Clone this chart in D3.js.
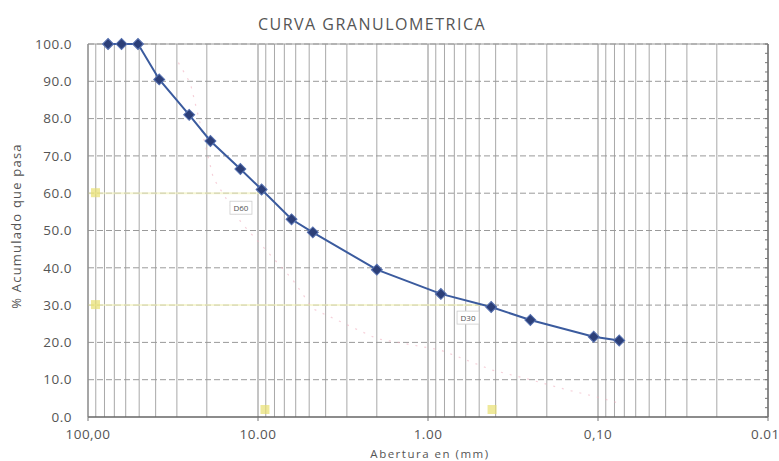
<!DOCTYPE html>
<html>
<head>
<meta charset="utf-8">
<script src="https://cdn.jsdelivr.net/npm/d3@7"></script>
<style>
  html, body { margin: 0; padding: 0; background: #fff; }
  svg { display: block; }
  text { font-family: "Open Sans", "DejaVu Sans", sans-serif; fill: #555; }
</style>
</head>
<body>
<div id="chart"></div>
<script>
// ---- data ----
const title = "CURVA GRANULOMETRICA";
const xTitle = "Abertura en (mm)";
const yTitle = "% Acumulado que pasa";
const sieveSizes = [76.2, 63.5, 50.8, 38.1, 25.4, 19.05, 12.7, 9.525, 6.35, 4.76, 2.00, 0.84, 0.425, 0.25, 0.106, 0.075];
const percentPassing = [100, 100, 100, 90.5, 81, 74, 66.5, 61, 53, 49.5, 39.5, 33, 29.5, 26, 21.5, 20.5];
// faint secondary (erased) curve
const faintSizes = [29.4, 25, 18.3, 12.5, 6.3, 4.75, 2.0, 0.85, 0.42, 0.25, 0.15, 0.106, 0.075];
const faintPassing = [95, 89.5, 64, 52, 37, 29, 21, 18, 12.6, 10, 7.2, 5.6, 3.7];
const xTickValues = [100, 10, 1, 0.1, 0.01];
const xTickLabels = ["100,00", "10.00", "1.00", "0,10", "0.01"];
const yTickValues = [0, 10, 20, 30, 40, 50, 60, 70, 80, 90, 100];
const dLabels = ["D60", "D30"];
const dPercents = [60, 30];
const dSizes = [9.1, 0.42];

// ---- layout ----
const W = 779, H = 461;
const svg = d3.select("#chart").append("svg").attr("width", W).attr("height", H);

const x = d3.scaleLog().domain([100, 0.01]).range([88, 768]);
const y = d3.scaleLinear().domain([0, 100]).range([417, 44]);

const g = svg.append("g");

// vertical log grid
const vGrid = [];
for (let e = -2; e < 2; e++) {
  for (let k = 1; k <= 9; k++) vGrid.push(k * Math.pow(10, e));
}
vGrid.push(100);
g.selectAll("line.vg").data(vGrid).join("line")
  .attr("class", "vg")
  .attr("x1", d => x(d)).attr("x2", d => x(d))
  .attr("y1", y(100)).attr("y2", y(0))
  .attr("stroke", d => (Math.abs(Math.log10(d) - Math.round(Math.log10(d))) < 1e-9) ? "#8a8a8a" : "#a8a8a8")
  .attr("stroke-width", 1);

// horizontal grid
g.selectAll("line.hg").data(yTickValues.filter(v => v > 0)).join("line")
  .attr("class", "hg")
  .attr("x1", x(100)).attr("x2", x(0.01))
  .attr("y1", d => y(d)).attr("y2", d => y(d))
  .attr("stroke", "#9a9a9a").attr("stroke-width", 1)
  .attr("stroke-dasharray", "6,3");

// faint yellow D lines
dPercents.forEach((p, i) => {
  g.append("line").attr("x1", x(100)).attr("x2", x(dSizes[i]))
    .attr("y1", y(p)).attr("y2", y(p))
    .attr("stroke", "#f2f2b8").attr("stroke-width", 2).attr("opacity", 0.6);
  g.append("rect").attr("x", x(100) + 3).attr("y", y(p) - 5).attr("width", 9).attr("height", 9)
    .attr("fill", "#e8e070").attr("opacity", 0.7);
  g.append("rect").attr("x", x(dSizes[i]) - 4.5).attr("y", y(0) - 12).attr("width", 9).attr("height", 9)
    .attr("fill", "#e8e070").attr("opacity", 0.7);
});

// faint pink curve
const faintLine = d3.line().x((d, i) => x(faintSizes[i])).y(d => y(d));
g.append("path").datum(faintPassing)
  .attr("d", faintLine)
  .attr("fill", "none").attr("stroke", "#f0b0c0").attr("stroke-width", 1.2)
  .attr("stroke-dasharray", "2,7").attr("opacity", 0.6);

// axes lines
g.append("line").attr("x1", x(100)).attr("x2", x(0.01)).attr("y1", y(0)).attr("y2", y(0))
  .attr("stroke", "#666").attr("stroke-width", 1.5);
g.append("line").attr("x1", x(100)).attr("x2", x(0.01)).attr("y1", y(100)).attr("y2", y(100))
  .attr("stroke", "#999").attr("stroke-width", 1);
g.append("line").attr("x1", x(100)).attr("x2", x(100)).attr("y1", y(100)).attr("y2", y(0))
  .attr("stroke", "#888").attr("stroke-width", 1);
g.append("line").attr("x1", x(0.01)).attr("x2", x(0.01)).attr("y1", y(100)).attr("y2", y(0))
  .attr("stroke", "#777").attr("stroke-width", 1.5);
// right minor ticks
g.selectAll("line.rt").data(d3.range(0, 101, 2.5)).join("line")
  .attr("class", "rt")
  .attr("x1", x(0.01) - 3).attr("x2", x(0.01))
  .attr("y1", d => y(d)).attr("y2", d => y(d))
  .attr("stroke", "#777");
// bottom ticks
g.selectAll("line.bt").data(xTickValues).join("line")
  .attr("class", "bt")
  .attr("x1", d => x(d)).attr("x2", d => x(d))
  .attr("y1", y(0)).attr("y2", y(0) + 4)
  .attr("stroke", "#777");

// tick labels
g.selectAll("text.yl").data(yTickValues).join("text")
  .attr("class", "yl")
  .attr("x", 72).attr("y", d => y(d)).attr("dy", "0.35em")
  .attr("text-anchor", "end").attr("font-size", 13.5).attr("letter-spacing", 0.5)
  .text(d => d.toFixed(1));
g.selectAll("text.xl").data(xTickValues).join("text")
  .attr("class", "xl")
  .attr("x", d => x(d)).attr("y", 439)
  .attr("text-anchor", (d, i) => i === xTickValues.length - 1 ? "start" : "middle")
  .attr("dx", (d, i) => i === xTickValues.length - 1 ? -17 : 0)
  .attr("font-size", 13.5).attr("letter-spacing", 0.5)
  .text((d, i) => xTickLabels[i]);

// titles
svg.append("text").attr("x", 372).attr("y", 30).attr("text-anchor", "middle")
  .attr("font-size", 16).attr("letter-spacing", 1.5).text(title);
svg.append("text").attr("x", 430).attr("y", 458).attr("text-anchor", "middle")
  .attr("font-size", 11.5).attr("letter-spacing", 1.5).text(xTitle);
svg.append("text").attr("transform", "translate(21,226) rotate(-90)")
  .attr("text-anchor", "middle").attr("font-size", 13).attr("letter-spacing", 1.2).text(yTitle);

// D labels (placed below-left of the D points)
dLabels.forEach((lab, i) => {
  const cx = x(dSizes[i]) - 24;
  const cy = y(dPercents[i]) + (i === 0 ? 15 : 13);
  g.append("rect").attr("x", cx - 11).attr("y", cy - 7).attr("width", 22).attr("height", 13)
    .attr("fill", "#fff").attr("stroke", "#ccc").attr("stroke-width", 0.8);
  g.append("text").attr("x", cx).attr("y", cy).attr("dy", "0.35em")
    .attr("text-anchor", "middle").attr("font-size", 8).text(lab);
});

// main curve
const line = d3.line().x((d, i) => x(sieveSizes[i])).y(d => y(d));
g.append("path").datum(percentPassing)
  .attr("d", line)
  .attr("fill", "none").attr("stroke", "#3b5b9e").attr("stroke-width", 2);
g.selectAll("path.mk").data(percentPassing).join("path")
  .attr("class", "mk")
  .attr("transform", (d, i) => `translate(${x(sieveSizes[i])},${y(d)}) rotate(45)`)
  .attr("d", d3.symbol().type(d3.symbolSquare).size(60))
  .attr("fill", "#2c3f78").attr("stroke", "#5570b0").attr("stroke-width", 1);
</script>
</body>
</html>
